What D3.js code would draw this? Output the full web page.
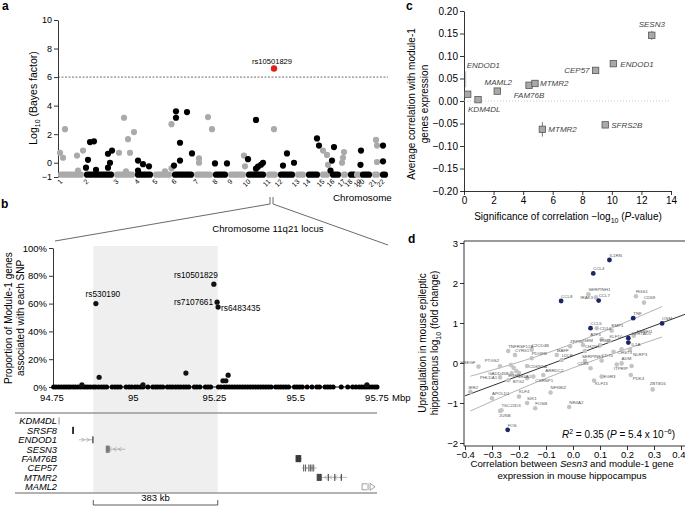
<!DOCTYPE html>
<html><head><meta charset="utf-8">
<script src="https://cdn.jsdelivr.net/npm/d3@7"></script>
<style>
body{margin:0;background:#fff}
svg{font-family:"Liberation Sans",Arial,Helvetica,sans-serif}
</style></head><body>
<svg id="fig" width="685" height="506"></svg>
<script>
// ---------- panel a: genome scan ----------
var chromNames = ["1","2","3","4","5","6","7","8","9","10","11","12","13","14","15","16","17","18","19","20","21","22"];
var chromSize = [26,30,21,18,19,22,19,15,18,20,12,17,11,14,10,11,7,9,3,12,8,8]; // SNP density units
var aSnpChrom = [1,1,1,1,1,1, 2,2,2,2,2,2,2,2,2, 3,3,3,3,3,3, 4,4,4,4, 5,5,5, 6,6,6,6,6,6,6, 7,7,7,7, 8,8, 9,9, 10,10,10,10,10,10, 11, 12,12,12, 14,14, 15,15,15, 16,16,16, 17,17,17, 20,20, 21,21,21, 22,22];
var aSnpPos   = [2,5,7,19,25,20, 4,2,6,10,12,24,28,26,24, 5,10,14,16,20,12, 3,8,14,3, 18.5,18.5,12, 4,4,8,8,2,15,20, 14,18,5,5, 2,14, 16,17, 2,10,10,12,15,17, 8, 5,9,16, 11,13, 3,7,8, 4,2,0.5, 3,1,2, 1,0.5, 4,5,5, 3,3];
var aSnpBF    = [0.7,0.35,2.35,0.5,0.85,-0.55, 0.2,-0.35,1.45,1.5,-0.5,0.63,0.85,0,-0.35, 0.7,3.15,1.65,0.7,2.15,-0.6, 0.15,-0.1,-0.25,-0.55, 2.7,-0.4,-0.6, 3.6,3.15,1.4,0.15,-0.2,3.55,0.65, 3.2,2.35,0.3,0, -0.05,-0.05, 0.5,-0.25, 0.25,3.0,-0.42,-0.28,-0.14,0, 2.35, -0.2,0.65,0, 1.7,1.2, 0.85,0.55,-0.15, 1.1,0.15,-0.55, 0.75,0,0.35, 0.85,-0.15, 1.6,1.2,0.05, 1.2,0.1];
var aHit = {snp: "rs10501829", chrom: 11, pos: 8, bf: 6.6};
var aThreshold = 6;
var aBaseline = -0.84;
var aTicks = [-1,0,2,4,6,8,10];

// ---------- panel b: 11q21 locus ----------
var bBaselineMb = [94.755,94.762,94.770,94.778,94.786,94.793,94.800,94.807,94.815,94.822,94.830,94.838,94.846,94.853,94.860,94.868,94.877,94.884,94.893,94.902,94.910,94.918,94.935,94.944,94.952,94.960,94.978,94.987,94.995,95.005,95.013,95.022,95.030,95.045,95.060,95.068,95.075,95.083,95.091,95.105,95.113,95.121,95.130,95.138,95.146,95.155,95.163,95.171,95.188,95.196,95.205,95.222,95.230,95.238,95.262,95.270,95.280,95.288,95.296,95.304,95.312,95.320,95.328,95.336,95.344,95.352,95.360,95.368,95.376,95.384,95.392,95.400,95.408,95.416,95.424,95.438,95.446,95.454,95.462,95.470,95.478,95.496,95.504,95.512,95.520,95.535,95.550,95.565,95.573,95.590,95.598,95.606,95.615,95.640,95.660,95.675,95.685,95.695,95.703,95.711,95.719,95.727,95.735,95.743,95.750];
var bSnpMb  = [94.885, 95.248, 95.258, 95.261, 94.895, 95.162, 95.276, 95.285, 95.292, 94.842, 95.030, 95.719];
var bSnpPct = [60, 74, 61, 57.5, 7, 10, 4.5, 4.5, 8.5, 1.5, 1.5, 1.5];
var bSnpName = ["rs530190","rs10501829","rs7107661","rs6483435","","","","","","","",""];
var bTicks = [94.75, 95, 95.25, 95.5, 95.75];
var bPctTicks = [0,20,40,60,80,100];
var bLocus = [94.877, 95.26]; // 383 kb
var geneNames  = ["KDM4DL","SRSF8","ENDOD1","SESN3","FAM76B","CEP57","MTMR2","MAML2"];
var geneStart  = [94.7712, 94.8140, 94.8330, 94.9160, 95.5008, 95.5190, 95.5650, 95.7040];
var geneEnd    = [94.7718, 94.8156, 94.8760, 94.9750, 95.5190, 95.5650, 95.6580, 95.7500];
var geneStrand = [1, 1, 1, -1, -1, 1, -1, 1];
var geneExons  = [[94.7715],[94.8142,94.8148,94.8153],[94.8757],[94.917,94.919,94.921,94.923,94.926],
  [95.501,95.503,95.505,95.507,95.509,95.511,95.513,95.515],[95.524,95.530,95.540,95.545,95.550,95.555],
  [95.566,95.568,95.570,95.572,95.574,95.576,95.578,95.600,95.620,95.640],[]];
var geneExonShade = ["#999","#222","#222","#777","#333","#666","#444","#777"];

// ---------- panel c ----------
var cGenes = ["ENDOD1","KDM4DL","MAML2","FAM76B","MTMR2","CEP57","ENDOD1","SESN3","SFRS2B","MTMR2"];
var cSig   = [0.25, 0.95, 2.25, 4.4, 4.8, 8.9, 10.1, 12.7, 9.55, 5.3];
var cCorr  = [0.015, 0.003, 0.022, 0.035, 0.039, 0.068, 0.083, 0.146, -0.053, -0.063];
var cErr   = [0.006, 0.004, 0.005, 0.005, 0.005, 0.006, 0.007, 0.010, 0.004, 0.016];

// ---------- panel d ----------
var dGenes = ["IL1RN","CCL4","CCL8","CCL7","TNF","OSM","CCL5","SERTAD1","IL1A","FOS",
  "SERPINH1","IRAK3","RGS1","CD69","CD14","EMP1","ATF3","ERRFI1","KLF10","PIM1","CH25H","ZFP36","GEM","CHST3","NLRP3",
  "ADM","ITPRIP","","CD70","CD83","SERPINE1","LDLR","MAFF","EGR3","PDK4","KLF15","ZBTB16","NFKBIZ","NR4A2","FOSB",
  "TNFRSF12A","C2CD4B","CYR61","HBEGF","PTGS2","PDGFB","CDKN1A","GADD45B","ARRDC2","NR4A1","CSRNP1","PHLDA1","EGR2","BTG2",
  "IER2","APOLD1","KLF4","SIK1","TSC22D3","JUNB","","","",""];
var dCorr = [0.135,0.075,-0.044,0.095,0.223,0.33,0.065,0.205,0.205,-0.242,
  0.057,0.085,0.233,0.263,0.088,0.143,0.106,0.225,0.135,0.10,0.044,-0.011,0.037,0.18,0.211,
  0.18,0.162,0.217,0.106,0.065,0.044,-0.042,-0.06,0.106,0.214,0.078,0.295,-0.083,-0.014,-0.14,
  -0.24,-0.153,-0.215,-0.35,-0.27,-0.153,-0.17,-0.227,-0.11,-0.2,-0.147,-0.27,-0.24,-0.17,
  -0.38,-0.3,-0.2,-0.17,-0.265,-0.27,-0.22,-0.21,-0.23,0.15];
var dLogFC = [2.575,2.24,1.55,1.56,1.12,0.99,0.87,0.62,0.51,-1.67,
  1.72,1.64,1.67,1.51,0.87,0.81,0.59,0.68,0.55,0.44,0.30,0.42,0.45,0.34,0.33,
  -0.01,-0.04,-0.075,0.06,-0.13,0.05,0.075,0.2,-0.34,-0.3,-0.44,-0.66,-0.74,-1.1,-1.13,
  0.3,0.33,0.2,-0.09,-0.08,0.12,-0.075,-0.26,-0.3,-0.25,-0.34,-0.36,-0.43,-0.38,
  -0.72,-0.88,-0.84,-1.0,-1.18,-1.2,-0.12,-0.2,-0.05,0.28];
var dBlue = ["IL1RN","CCL4","CCL8","CCL7","TNF","OSM","CCL5","SERTAD1","IL1A","FOS"];
var dFit = {slope: 2.5, intercept: 0.18};
var dBandUpper = [[-0.38,-0.33],[-0.05,0.36],[0.33,1.41]];
var dBandLower = [[-0.38,-1.2],[-0.05,-0.25],[0.33,0.65]];

// ======================================================
var svg = d3.select("#fig");
var FS = "Liberation Sans, Arial, sans-serif";

function styleAxis(g, fs) {
  g.attr("font-family", FS).attr("font-size", fs);
  g.selectAll("path,line").attr("stroke", "#000").attr("stroke-width", 0.8);
  g.selectAll("text").attr("fill", "#000");
}
function label(txt, x, y) {
  svg.append("text").attr("x", x).attr("y", y).attr("font-size", 12).attr("font-weight", "bold").text(txt);
}
function minus(v) { return v < 0 ? "\u2212" + (-v) : "" + v; }

// ---------------- panel a ----------------
label("a", 2, 10);
var chromStart = [0];
chromSize.forEach(function(s, i) { chromStart.push(chromStart[i] + s); });
var xA = d3.scaleLinear().domain([0, d3.sum(chromSize)]).range([58, 388]);
var yA = d3.scaleLinear().domain([-1, 10]).range([177, 20]);
var gA = svg.append("g");

gA.append("g").attr("transform", "translate(58,0)")
  .call(d3.axisLeft(yA).tickValues(aTicks).tickSize(4).tickSizeOuter(0).tickPadding(2).tickFormat(minus))
  .call(styleAxis, 9);

gA.append("line").attr("x1", 58).attr("x2", 388).attr("y1", yA(aThreshold)).attr("y2", yA(aThreshold))
  .attr("stroke", "#333").attr("stroke-width", 0.7).attr("stroke-dasharray", "2,1.5");

function chromColor(c) { return c % 2 ? "#aaaaaa" : "#000"; }
gA.selectAll(".band").data(chromSize).join("line")
  .attr("x1", function(d, i) { return xA(chromStart[i]) + 3; })
  .attr("x2", function(d, i) { return xA(chromStart[i + 1]) - 3; })
  .attr("y1", yA(aBaseline)).attr("y2", yA(aBaseline))
  .attr("stroke", function(d, i) { return chromColor(i + 1); })
  .attr("stroke-width", 6.2).attr("stroke-linecap", "round");

gA.selectAll(".snp").data(aSnpChrom).join("circle")
  .attr("cx", function(c, i) { return xA(chromStart[c - 1] + aSnpPos[i]); })
  .attr("cy", function(c, i) { return yA(aSnpBF[i]); })
  .attr("r", 3.1).attr("fill", function(c) { return chromColor(c); });

gA.append("circle").attr("cx", xA(chromStart[aHit.chrom - 1] + aHit.pos)).attr("cy", yA(aHit.bf))
  .attr("r", 3.2).attr("fill", "#e0201b");
gA.append("text").attr("x", xA(chromStart[aHit.chrom - 1] + aHit.pos) - 2).attr("y", yA(aHit.bf) - 5)
  .attr("text-anchor", "middle").attr("font-size", 7.6).text(aHit.snp);

gA.selectAll(".clab").data(chromNames).join("text")
  .attr("transform", function(d, i) { return "translate(" + (xA(chromStart[i]) + 5) + ",182) rotate(-45)"; })
  .attr("text-anchor", "end").attr("font-size", 7).text(function(d) { return d; });
gA.append("text").attr("x", 333).attr("y", 201).attr("font-size", 9.8).text("Chromosome");

var tA = gA.append("text").attr("transform", "translate(37,98) rotate(-90)").attr("text-anchor", "middle").attr("font-size", 10.5);
tA.append("tspan").text("Log");
tA.append("tspan").attr("font-size", 7).attr("dy", 2.5).text("10");
tA.append("tspan").attr("dy", -2.5).text(" (Bayes factor)");

// ---------------- panel b ----------------
label("b", 1, 208);
var xB = d3.scaleLinear().domain([94.75, 95.75]).range([52, 377]);
var yB = d3.scaleLinear().domain([0, 100]).range([387, 248]);
var gB = svg.append("g");

// connector from chromosome 11 to the locus
var lx0 = xA(chromStart[10] + 4), lx1 = xA(chromStart[10] + 7);
gB.append("path").attr("d", "M" + lx0 + ",197V204L55,241M" + lx1 + ",197V204L388,245")
  .attr("fill", "none").attr("stroke", "#444").attr("stroke-width", 0.8);
gB.append("text").attr("x", 268).attr("y", 232).attr("text-anchor", "middle").attr("font-size", 9.6)
  .text("Chromosome 11q21 locus");

gB.append("rect").attr("x", xB(bLocus[0])).attr("width", xB(bLocus[1]) - xB(bLocus[0]))
  .attr("y", 246).attr("height", 247).attr("fill", "#efefef");

gB.append("g").attr("transform", "translate(53,0)")
  .call(d3.axisLeft(yB).tickValues(bPctTicks).tickSize(4).tickSizeOuter(0).tickPadding(2).tickFormat(function(d) { return d + "%"; }))
  .call(styleAxis, 9.5);
gB.append("line").attr("x1", 53).attr("x2", 377).attr("y1", yB(0)).attr("y2", yB(0)).attr("stroke", "#000").attr("stroke-width", 1);
gB.selectAll(".bt").data(bTicks).join("text")
  .attr("x", function(d) { return xB(d); }).attr("y", 401).attr("text-anchor", "middle").attr("font-size", 9.5)
  .text(function(d) { return d; });
gB.append("text").attr("x", 392).attr("y", 401).attr("font-size", 9.5).text("Mbp");

gB.selectAll(".b0").data(bBaselineMb).join("circle")
  .attr("cx", function(d) { return xB(d); }).attr("cy", yB(0)).attr("r", 2.5).attr("fill", "#000");
gB.selectAll(".b1").data(bSnpMb).join("circle")
  .attr("cx", function(d) { return xB(d); }).attr("cy", function(d, i) { return yB(bSnpPct[i]); })
  .attr("r", 2.6).attr("fill", "#111");
var bLab = [[0, -7, "middle", 7], [4, -6, "end", 0], [-4, 3, "end", 0], [3, 4, "start", 0]];
bLab.forEach(function(p, i) {
  gB.append("text").attr("x", xB(bSnpMb[i]) + p[0] + p[3]).attr("y", yB(bSnpPct[i]) + p[1])
    .attr("text-anchor", p[2]).attr("font-size", 8.3).text(bSnpName[i]);
});

var tB = gB.append("text").attr("transform", "translate(12,318) rotate(-90)").attr("text-anchor", "middle").attr("font-size", 10);
tB.append("tspan").attr("x", 0).text("Proportion of Module-1 genes");
tB.append("tspan").attr("x", 0).attr("dy", 12).text("associated with each SNP");

// gene track
gB.append("line").attr("x1", 15).attr("x2", 377).attr("y1", 413).attr("y2", 413).attr("stroke", "#999").attr("stroke-width", 1.3);
gB.append("line").attr("x1", 15).attr("x2", 377).attr("y1", 493).attr("y2", 493).attr("stroke", "#999").attr("stroke-width", 1.3);
var rowY = function(i) { return 421 + i * 9.4; };
gB.selectAll(".gl").data(geneNames).join("text")
  .attr("x", 57).attr("y", function(d, i) { return rowY(i) + 3.3; }).attr("text-anchor", "end")
  .attr("font-size", 9.3).attr("font-style", "italic").text(function(d) { return d; });
geneNames.forEach(function(name, i) {
  var y = rowY(i), x0 = xB(geneStart[i]), x1 = xB(geneEnd[i]);
  var g = gB.append("g");
  if (geneExons[i].length === 0) { // clipped gene at the edge of the window
    g.append("path").attr("d", "M" + (x0 + 5) + "," + (y - 3) + "H" + x0 + "V" + (y + 3) + "H" + (x0 + 5) + "M" + (x0 + 6) + "," + (y - 3.5) + "V" + (y + 3.5)
      + "M" + (x0 + 8) + "," + (y - 3.5) + "L" + (x0 + 13) + "," + y + "L" + (x0 + 8) + "," + (y + 3.5) + "Z")
      .attr("fill", "none").attr("stroke", geneExonShade[i]).attr("stroke-width", 0.7);
    return;
  }
  g.append("line").attr("x1", x0).attr("x2", x1).attr("y1", y).attr("y2", y).attr("stroke", "#999").attr("stroke-width", 0.7);
  for (var x = x0 + 4; x < x1 - 2; x += 5) {
    var s = geneStrand[i];
    g.append("path").attr("d", "M" + (x - 1.5 * s) + "," + (y - 2) + "L" + (x + 1.5 * s) + "," + y + "L" + (x - 1.5 * s) + "," + (y + 2))
      .attr("fill", "none").attr("stroke", "#999").attr("stroke-width", 0.6);
  }
  geneExons[i].forEach(function(e) {
    g.append("rect").attr("x", xB(e) - 0.5).attr("y", y - 3.5).attr("width", 1.1).attr("height", 7)
      .attr("fill", geneExonShade[i]);
  });
});
// 383 kb bracket
var kx0 = xB(bLocus[0]), kx1 = xB(bLocus[1]);
gB.append("path").attr("d", "M" + kx0 + ",500V505H" + kx1 + "V500").attr("fill", "none").attr("stroke", "#333").attr("stroke-width", 0.8);
gB.append("text").attr("x", (kx0 + kx1) / 2).attr("y", 501).attr("text-anchor", "middle").attr("font-size", 9.5)
  .text(Math.round((bLocus[1] - bLocus[0]) * 1000) + " kb");

// ---------------- panel c ----------------
label("c", 406, 10);
var xC = d3.scaleLinear().domain([0, 14]).range([464, 671]);
var yC = d3.scaleLinear().domain([-0.2, 0.2]).range([191, 11]);
var gC = svg.append("g");
gC.append("g").attr("transform", "translate(464,0)")
  .call(d3.axisLeft(yC).tickValues(d3.range(-0.2, 0.201, 0.05)).tickSize(4).tickSizeOuter(0).tickPadding(2).tickFormat(d3.format(".2f")))
  .call(styleAxis, 10);
gC.append("g").attr("transform", "translate(0,191)")
  .call(d3.axisBottom(xC).tickValues(d3.range(0, 15, 2)).tickSize(4).tickSizeOuter(0).tickPadding(2))
  .call(styleAxis, 10);
gC.append("line").attr("x1", 464).attr("x2", 671).attr("y1", yC(0)).attr("y2", yC(0))
  .attr("stroke", "#bbb").attr("stroke-width", 0.8).attr("stroke-dasharray", "1,2");
cGenes.forEach(function(g, i) {
  var x = xC(cSig[i]), y = yC(cCorr[i]);
  gC.append("line").attr("x1", x).attr("x2", x).attr("y1", yC(cCorr[i] - cErr[i])).attr("y2", yC(cCorr[i] + cErr[i]))
    .attr("stroke", "#555").attr("stroke-width", 0.8);
  gC.append("rect").attr("x", x - 3.2).attr("y", y - 3.2).attr("width", 6.4).attr("height", 6.4)
    .attr("fill", "#a9a9a9").attr("stroke", "#555").attr("stroke-width", 0.8);
});
var cLab = [[-1, -26, "start"], [-10, 12, "start"], [1, -6, "middle"], [0, 13, "middle"], [5, 3, "start"],
  [-6, 3, "end"], [7, 3, "start"], [0, -8, "middle"], [6, 3, "start"], [6, 3, "start"]];
cGenes.forEach(function(g, i) {
  var p = cLab[i];
  gC.append("text").attr("x", xC(cSig[i]) + p[0]).attr("y", yC(cCorr[i]) + p[1]).attr("text-anchor", p[2])
    .attr("font-size", 8).attr("font-style", "italic").attr("fill", "#444").text(g);
});
gC.append("line").attr("x1", xC(cSig[0]) - 2).attr("x2", xC(cSig[0]) - 2).attr("y1", yC(cCorr[0]) - 23).attr("y2", yC(cCorr[0]) - 7)
  .attr("stroke", "#aaa").attr("stroke-width", 0.8);
var tCx = gC.append("text").attr("x", 568).attr("y", 220).attr("text-anchor", "middle").attr("font-size", 10);
tCx.append("tspan").text("Significance of correlation \u2212log");
tCx.append("tspan").attr("font-size", 7).attr("dy", 2.5).text("10");
tCx.append("tspan").attr("dy", -2.5).text(" (");
tCx.append("tspan").attr("font-style", "italic").text("P");
tCx.append("tspan").text("-value)");
var tCy = gC.append("text").attr("transform", "translate(415,104) rotate(-90)").attr("text-anchor", "middle").attr("font-size", 10);
tCy.append("tspan").attr("x", 0).text("Average correlation with module-1");
tCy.append("tspan").attr("x", 0).attr("dy", 13).text("genes expression");

// ---------------- panel d ----------------
label("d", 408, 243);
var xD = d3.scaleLinear().domain([-0.4, 0.4]).range([465, 681]);
var yD = d3.scaleLinear().domain([-2, 3]).range([443, 243]);
var gD = svg.append("g");
gD.append("path").attr("d", "M685,241H464V446H685").attr("fill", "none").attr("stroke", "#000").attr("stroke-width", 0.8);
gD.append("g").attr("transform", "translate(464,0)")
  .call(d3.axisLeft(yD).tickValues([-2, -1, 0, 1, 2, 3]).tickSize(4).tickSizeOuter(0).tickPadding(2).tickFormat(minus))
  .call(styleAxis, 9.5).select(".domain").remove();
var axD = gD.append("g").attr("transform", "translate(0,446)")
  .call(d3.axisBottom(xD).tickValues(d3.range(-0.4, 0.401, 0.1)).tickSize(4).tickSizeOuter(0).tickPadding(1).tickFormat(d3.format(".1f")))
  .call(styleAxis, 9.5);
axD.select(".domain").remove();
// last tick label sits against the right edge
axD.selectAll(".tick").filter(function(d) { return d > 0.35; }).select("text").attr("text-anchor", "end").attr("x", 4);

var band = d3.line().x(function(d) { return xD(d[0]); }).y(function(d) { return yD(d[1]); }).curve(d3.curveNatural);
gD.append("path").attr("d", band(dBandUpper)).attr("fill", "none").attr("stroke", "#aaa").attr("stroke-width", 0.9);
gD.append("path").attr("d", band(dBandLower)).attr("fill", "none").attr("stroke", "#aaa").attr("stroke-width", 0.9);
var fx0 = -0.4, fx1 = xD.invert(685);
gD.append("line").attr("x1", xD(fx0)).attr("x2", xD(fx1))
  .attr("y1", yD(dFit.intercept + dFit.slope * fx0)).attr("y2", yD(dFit.intercept + dFit.slope * fx1))
  .attr("stroke", "#333").attr("stroke-width", 1);

var dIdx = d3.range(dGenes.length);
var isBlue = function(i) { return dBlue.indexOf(dGenes[i]) >= 0 && dGenes[i] !== ""; };
gD.selectAll(".dg").data(dIdx.filter(function(i) { return !isBlue(i); })).join("circle")
  .attr("cx", function(i) { return xD(dCorr[i]); }).attr("cy", function(i) { return yD(dLogFC[i]); })
  .attr("r", 2.3).attr("fill", "#c4c4c4");
gD.selectAll(".db").data(dIdx.filter(isBlue)).join("circle")
  .attr("cx", function(i) { return xD(dCorr[i]); }).attr("cy", function(i) { return yD(dLogFC[i]); })
  .attr("r", 2.4).attr("fill", "#1c2566");
var dLabOverride = {IRAK3: [-3, 2, "end"], ATF3: [-1, -3.5, "end"], CD14: [3, 1.6, "start"], CD83: [-2, -3, "end"],
  EGR3: [2, 1.5, "start"], KLF15: [1, 4.5, "start"], NLRP3: [3, 6, "start"], PDK4: [2, 5, "start"], ZBTB16: [-3, -4, "start"],
  JUNB: [-1, 6, "start"], HBEGF: [-3, -2.5, "end"], IER2: [-2, -3, "start"], SERPINE1: [-3, -3, "start"], ITPRIP: [-3, 5, "start"],
  IL1A: [3, 3, "start"], SERTAD1: [3, -3, "start"], ERRFI1: [3, -2.5, "start"], CHST3: [-4, 5, "start"],
  CDKN1A: [2, 1.6, "start"], NR4A1: [-2, 5, "start"], PTGS2: [-1, -4, "end"], GADD45B: [-3, 1.6, "end"], PHLDA1: [-3, 2, "end"],
  CSRNP1: [2, 5, "start"], ARRDC2: [2, -3, "start"], BTG2: [-3, 5, "end"]};
dIdx.forEach(function(i) {
  if (!dGenes[i]) return;
  var p = dLabOverride[dGenes[i]] || [0, -3.2, "start"];
  gD.append("text").attr("x", xD(dCorr[i]) + p[0]).attr("y", yD(dLogFC[i]) + p[1]).attr("text-anchor", p[2])
    .attr("font-size", 4.4).attr("fill", "#555").text(dGenes[i]);
});

var tR = gD.append("text").attr("x", 675).attr("y", 438).attr("text-anchor", "end").attr("font-size", 10);
tR.append("tspan").attr("font-style", "italic").text("R");
tR.append("tspan").attr("font-size", 7).attr("dy", -4).text("2");
tR.append("tspan").attr("dy", 4).text(" = 0.35 (");
tR.append("tspan").attr("font-style", "italic").text("P");
tR.append("tspan").text(" = 5.4 x 10");
tR.append("tspan").attr("font-size", 7).attr("dy", -4).text("\u22126");
tR.append("tspan").attr("dy", 4).text(")");

var tDx = gD.append("text").attr("x", 572).attr("y", 467).attr("text-anchor", "middle").attr("font-size", 9.7);
tDx.append("tspan").text("Correlation between ");
tDx.append("tspan").attr("font-style", "italic").text("Sesn3");
tDx.append("tspan").text(" and module-1 gene");
gD.append("text").attr("x", 572).attr("y", 479).attr("text-anchor", "middle").attr("font-size", 9.7).text("expression in mouse hippocampus");
var tDy = gD.append("text").attr("transform", "translate(426,343) rotate(-90)").attr("text-anchor", "middle").attr("font-size", 10);
tDy.append("tspan").attr("x", 0).text("Upregulation in mouse epileptic");
tDy.append("tspan").attr("x", 0).attr("dy", 12).text("hippocampus log");
tDy.append("tspan").attr("font-size", 7).attr("dy", 2.5).text("10");
tDy.append("tspan").attr("dy", -2.5).text(" (fold change)");
</script></body></html>
